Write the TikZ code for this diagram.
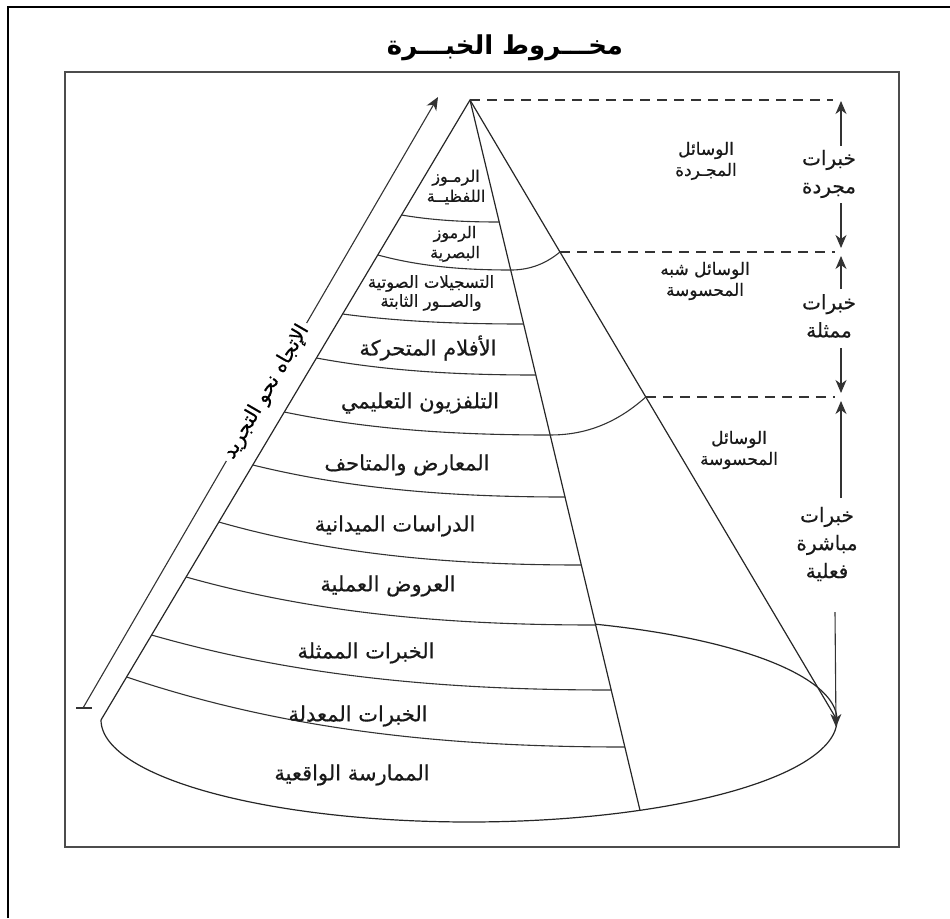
\documentclass[tikz,border=0pt]{standalone}
\usepackage{fontspec}
\newfontfamily\arabicfont[Script=Arabic]{DejaVu Sans}
\newfontfamily\arabicheavy[Script=Arabic,FakeBold=0.6]{DejaVu Sans}
\TeXXeTstate=1
\usetikzlibrary{arrows.meta}
\newcommand{\rtltext}[1]{\beginR #1\endR}
\begin{document}
\begin{tikzpicture}[x=1pt,y=-1pt,
  conestroke/.style={line width=1.2pt, draw=black!85},
  bandline/.style={line width=1.1pt, draw=black!80},
  dashline/.style={line width=1.1pt, draw=black!80, dash pattern=on 10pt off 7pt},
  arr/.style={line width=1.1pt, draw=black!80, -{Stealth[length=13pt,width=11pt,inset=4pt]}},
  lbl/.style={font=\arabicheavy\fontsize{21}{21}\selectfont, align=center, inner sep=1pt, text=black!90},
  tlbl/.style={font=\arabicheavy\fontsize{16}{20}\selectfont, align=center, inner sep=1pt, text=black!90},
  slbl/.style={font=\arabicheavy\fontsize{17}{21}\selectfont, align=center, inner sep=1pt, text=black!90},
  klbl/.style={font=\arabicheavy\fontsize{20}{28}\selectfont, align=center, inner sep=1pt, text=black!90},
]
\useasboundingbox (0,0) rectangle (950,918);
% frames
\draw[line width=2.6pt] (8,918) -- (8,7) -- (950,7);
\draw[line width=1.6pt, black!70] (65,72) rectangle (899,847);
% title
\node[font=\arabicfont\bfseries\fontsize{26}{30}\selectfont] (title) at (505,48) {\rtltext{مخـــروط الخبـــرة}};
% cone
\coordinate (A) at (470,100);
\coordinate (Lb) at (101,720);
\coordinate (Rb) at (837,720);
\coordinate (B) at (640,810.3);
\draw[conestroke] (Lb) -- (A) -- (Rb);
\draw[conestroke] (A) -- (B);
\draw[conestroke] plot[domain=0:180, samples=120, variable=\t] ({469+368*cos(\t)},{720+102*sin(\t)});
\draw[conestroke] plot[domain=-69.9:0, samples=60, variable=\t] ({469+368*cos(\t)},{720+102*sin(\t)});
% band lines
\coordinate (L1) at (401.6,215);  \coordinate (I1) at (499.2,222);
\coordinate (L2) at (377.8,255);  \coordinate (I2) at (510.7,270); \coordinate (R2) at (560,252);
\coordinate (L3) at (342.6,314);  \coordinate (I3) at (523.6,324);
\coordinate (L4) at (316.4,358);  \coordinate (I4) at (535.8,375);
\coordinate (L5) at (284.3,412);  \coordinate (I5) at (550.2,435); \coordinate (R5) at (645.8,397);
\coordinate (L6) at (252.8,465);  \coordinate (I6) at (565,497);
\coordinate (L7) at (218.8,522);  \coordinate (I7) at (581.3,565);
\coordinate (L8) at (186.1,577);  \coordinate (I8) at (595.7,625);
\coordinate (L9) at (151.6,635);  \coordinate (I9) at (611.3,690);
\coordinate (L10) at (126.6,677); \coordinate (I10) at (624.9,747);
\draw[bandline] (L1) .. controls +(32.5,5.6) and +(-32.5,0) .. (I1);
\draw[bandline] (L2) .. controls +(44.3,12) and +(-44.3,0) .. (I2) .. controls +(16.4,0) and +(-16.4,13.5) .. (R2);
\draw[bandline] (L3) .. controls +(60.3,8) and +(-60.3,0) .. (I3);
\draw[bandline] (L4) .. controls +(73.1,13.6) and +(-73.1,0) .. (I4);
\draw[bandline] (L5) .. controls +(88.6,18.4) and +(-88.6,0) .. (I5) .. controls +(31.9,0) and +(-31.9,28.5) .. (R5);
\draw[bandline] (L6) .. controls +(104,25.6) and +(-104,0) .. (I6);
\draw[bandline] (L7) .. controls +(120.8,34.4) and +(-120.8,0) .. (I7);
\draw[bandline] (L8) .. controls +(136.5,38.4) and +(-136.5,0) .. (I8);
\draw[bandline] (L9) .. controls +(153.2,44) and +(-153.2,0) .. (I9);
\draw[bandline] (L10) .. controls +(166.1,56) and +(-166.1,0) .. (I10);
% band labels
\node[tlbl] (t1) at (456,187) {\rtltext{الرمـوز}\\\rtltext{اللفظيــة}};
\node[tlbl] (t2) at (455,244) {\rtltext{الرموز}\\\rtltext{البصرية}};
\node[tlbl, font=\arabicheavy\fontsize{16.5}{19}\selectfont] (t3) at (431,293) {\rtltext{التسجيلات الصوتية}\\\rtltext{والصــور الثابتة}};
\node[lbl] (t4) at (428,348) {\rtltext{الأفلام المتحركة}};
\node[lbl] (t5) at (420,403) {\rtltext{التلفزيون التعليمي}};
\node[lbl] (t6) at (407,465) {\rtltext{المعارض والمتاحف}};
\node[lbl] (t7) at (395,526) {\rtltext{الدراسات الميدانية}};
\node[lbl] (t8) at (388,586) {\rtltext{العروض العملية}};
\node[lbl] (t9) at (366,653) {\rtltext{الخبرات الممثلة}};
\node[lbl] (t10) at (358,716) {\rtltext{الخبرات المعدلة}};
\node[lbl] (t11) at (352,775) {\rtltext{الممارسة الواقعية}};
% media labels
\node[slbl] (m1) at (706,161) {\rtltext{الوسائل}\\\rtltext{المجـردة}};
\node[slbl] (m2) at (705,281) {\rtltext{الوسائل شبه}\\\rtltext{المحسوسة}};
\node[slbl] (m3) at (739,450) {\rtltext{الوسائل}\\\rtltext{المحسوسة}};
% dashed levels
\coordinate (D1) at (833,100);
\coordinate (D2) at (835,252);
\coordinate (D3) at (835,397);
\draw[dashline] (A) -- (D1);
\draw[dashline] (R2) -- (D2);
\draw[dashline] (R5) -- (D3);
% experience labels and arrows
\node[klbl] (k1) at (829,174) {\rtltext{خبرات}\\\rtltext{مجردة}};
\node[klbl] (k2) at (829,316) {\rtltext{خبرات}\\\rtltext{ممثلة}};
\node[klbl] (k3) at (827,544) {\rtltext{خبرات}\\\rtltext{مباشرة}\\\rtltext{فعلية}};
\coordinate (a1s) at (841,146); \coordinate (a1e) at (841,101);
\coordinate (a2s) at (841,203); \coordinate (a2e) at (841,248);
\coordinate (a3s) at (841,289); \coordinate (a3e) at (841,256);
\coordinate (a4s) at (841,348); \coordinate (a4e) at (841,393);
\coordinate (a5s) at (841,498); \coordinate (a5e) at (841,401);
\coordinate (a6s) at (835,612); \coordinate (a6e) at (836,727);
\draw[arr] (a1s) -- (a1e);
\draw[arr] (a2s) -- (a2e);
\draw[arr] (a3s) -- (a3e);
\draw[arr] (a4s) -- (a4e);
\draw[arr] (a5s) -- (a5e);
\draw[arr] (a6s) -- (a6e);
% direction toward abstraction
\coordinate (g0) at (83,708);
\coordinate (g3) at (438,97);
\coordinate (tk1) at (76,708); \coordinate (tk2) at (92,708);
\node[font=\arabicheavy\fontsize{20}{22}\selectfont, rotate=59.8, inner sep=4pt] (dir) at (266.5,392) {\rtltext{الإتجاه نحو التجريد}};
\draw[line width=1.1pt, black!80] (tk1) -- (tk2);
\draw[line width=1.1pt, black!80] (g0) -- (dir.west);
\draw[arr] (dir.east) -- (g3);
\end{tikzpicture}
\end{document}
